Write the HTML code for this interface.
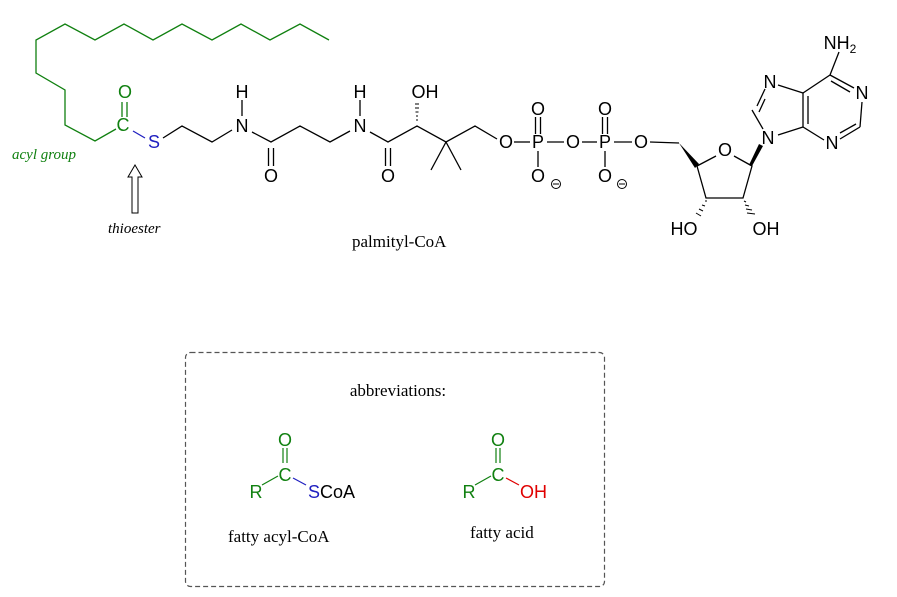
<!DOCTYPE html>
<html><head><meta charset="utf-8"><style>
html,body{margin:0;padding:0;background:#fff}
svg{display:block}
text{font-family:"Liberation Sans",sans-serif;font-size:18px}
.t{font-family:"Liberation Serif",serif}
</style></head><body>
<svg width="897" height="597" viewBox="0 0 897 597" xmlns="http://www.w3.org/2000/svg">
<g fill="none" stroke="#108010" stroke-width="1.3">
<polyline points="329,40 300,24 270,40 241,24 212,40 182,24 153,40 124,24 95,40 65,24 36,40 36,73 65,90 65,125 95,141 116,129"/>
<line x1="122" y1="102" x2="122" y2="117"/><line x1="127" y1="102" x2="127" y2="117"/>
</g>
<line x1="133" y1="131" x2="145" y2="138" stroke="#2020c0" stroke-width="1.3"/>
<g fill="none" stroke="#000" stroke-width="1.3">
<polyline points="163,138 182,126 212,142 232,130"/>
<line x1="242" y1="100" x2="242" y2="116"/>
<polyline points="252,132 271,142 300,126 330,142 350,131"/>
<line x1="268.5" y1="148" x2="268.5" y2="166"/><line x1="273.5" y1="148" x2="273.5" y2="166"/>
<line x1="360" y1="100" x2="360" y2="116"/>
<polyline points="370,132 388,142 417,126 446,142 475,126 497,139"/>
<line x1="385.5" y1="148" x2="385.5" y2="166"/><line x1="390.5" y1="148" x2="390.5" y2="166"/>
<line x1="446" y1="142" x2="431" y2="170"/><line x1="446" y1="142" x2="461" y2="170"/>
<line x1="514" y1="142" x2="530" y2="142"/><line x1="547" y1="142" x2="564" y2="142"/>
<line x1="582" y1="142" x2="597" y2="142"/><line x1="614" y1="142" x2="632" y2="142"/>
<line x1="535.5" y1="117" x2="535.5" y2="134"/><line x1="540.5" y1="117" x2="540.5" y2="134"/>
<line x1="538" y1="151" x2="538" y2="167"/>
<line x1="602.5" y1="117" x2="602.5" y2="134"/><line x1="607.5" y1="117" x2="607.5" y2="134"/>
<line x1="605" y1="151" x2="605" y2="167"/>
<line x1="650" y1="142" x2="679" y2="143"/>
<polyline points="716,156 697,166 706,198 743,198 752,166 734,156"/>
<line x1="752" y1="110" x2="763" y2="129"/><line x1="757" y1="106" x2="765" y2="89"/>
<line x1="759" y1="112" x2="765" y2="99"/>
<line x1="778" y1="85" x2="803" y2="93"/><line x1="803" y1="93" x2="803" y2="127"/>
<line x1="808" y1="96" x2="808" y2="124"/>
<line x1="778" y1="135" x2="803" y2="127"/>
<line x1="803" y1="93" x2="830" y2="75"/><line x1="830" y1="75" x2="854" y2="88"/>
<line x1="831" y1="81" x2="850" y2="92"/>
<line x1="830" y1="75" x2="839" y2="52"/>
<line x1="862" y1="102" x2="860" y2="127"/><line x1="860" y1="127" x2="840" y2="139"/>
<line x1="856" y1="124" x2="840" y2="133"/>
<line x1="803" y1="127" x2="824" y2="140"/>
<circle cx="556" cy="184" r="4.5" stroke-width="1"/><line x1="553" y1="184" x2="559" y2="184" stroke-width="1"/>
<circle cx="622" cy="184" r="4.5" stroke-width="1"/><line x1="619" y1="184" x2="625" y2="184" stroke-width="1"/>
</g>
<polygon points="679,143 695,168 699,164" fill="#000"/>
<polygon points="752,166 763,146 759,144 749,165" fill="#000"/>
<g stroke="#000" stroke-width="1">
<line x1="415" y1="104" x2="419" y2="104"/><line x1="415" y1="108" x2="419" y2="108"/><line x1="415.5" y1="112" x2="418.5" y2="112"/><line x1="416" y1="116" x2="418" y2="116"/><line x1="416" y1="120" x2="418" y2="120"/>
<line x1="705" y1="201" x2="707" y2="201"/><line x1="702" y1="205" x2="705" y2="206"/><line x1="699" y1="209" x2="703" y2="211"/><line x1="696" y1="213" x2="701" y2="216"/>
<line x1="744" y1="201" x2="746" y2="202"/><line x1="745" y1="205" x2="749" y2="206"/><line x1="746" y1="209" x2="752" y2="210"/><line x1="747" y1="213" x2="755" y2="214"/>
</g>
<g text-anchor="middle">
<text x="125" y="98" fill="#108010">O</text>
<text x="123" y="131" fill="#108010">C</text>
<text x="154" y="148" fill="#2020c0">S</text>
<text x="242" y="98">H</text><text x="242" y="132">N</text>
<text x="271" y="182">O</text>
<text x="360" y="98">H</text><text x="360" y="132">N</text>
<text x="388" y="182">O</text>
<text x="425" y="98">OH</text>
<text x="506" y="148">O</text><text x="538" y="148">P</text><text x="573" y="148">O</text><text x="605" y="148">P</text><text x="641" y="148">O</text>
<text x="538" y="115">O</text><text x="538" y="182">O</text>
<text x="605" y="115">O</text><text x="605" y="182">O</text>
<text x="725" y="156">O</text>
<text x="684" y="235">HO</text><text x="766" y="235">OH</text>
<text x="768" y="144">N</text><text x="770" y="88">N</text>
<text x="862" y="99">N</text><text x="832" y="149">N</text>
<text x="840" y="49">NH<tspan font-size="12" dy="4">2</tspan></text>
</g>
<text x="12" y="159" class="t" font-style="italic" fill="#108010" style="font-size:15px">acyl group</text>
<text x="108" y="233" class="t" font-style="italic" style="font-size:15px">thioester</text>
<polygon points="132,213 138,213 138,177 142,177 135,165 128,177 132,177" fill="#fff" stroke="#000" stroke-width="1"/>
<text x="352" y="247" class="t" style="font-size:17px">palmityl-CoA</text>
<rect x="185.5" y="352.5" width="419" height="234" rx="5" fill="none" stroke="#555" stroke-width="1.2" stroke-dasharray="5,3"/>
<text x="398" y="396" class="t" text-anchor="middle" style="font-size:17px">abbreviations:</text>
<g stroke-width="1.2" fill="none">
<line x1="262" y1="485" x2="278" y2="476" stroke="#108010"/>
<line x1="283" y1="448" x2="283" y2="463" stroke="#108010"/><line x1="287" y1="448" x2="287" y2="463" stroke="#108010"/>
<line x1="293" y1="478" x2="306" y2="485" stroke="#2020c0"/>
<line x1="475" y1="485" x2="491" y2="476" stroke="#108010"/>
<line x1="496" y1="448" x2="496" y2="463" stroke="#108010"/><line x1="500" y1="448" x2="500" y2="463" stroke="#108010"/>
<line x1="506" y1="478" x2="519" y2="485" stroke="#e00000"/>
</g>
<g text-anchor="middle">
<text x="285" y="446" fill="#108010">O</text><text x="285" y="481" fill="#108010">C</text><text x="256" y="498" fill="#108010">R</text>
<text x="498" y="446" fill="#108010">O</text><text x="498" y="481" fill="#108010">C</text><text x="469" y="498" fill="#108010">R</text>
</g>
<text x="308" y="498"><tspan fill="#2020c0">S</tspan>CoA</text>
<text x="520" y="498" fill="#e00000">OH</text>
<text x="228" y="542" class="t" style="font-size:17px">fatty acyl-CoA</text>
<text x="470" y="538" class="t" style="font-size:17px">fatty acid</text>
</svg>
</body></html>
